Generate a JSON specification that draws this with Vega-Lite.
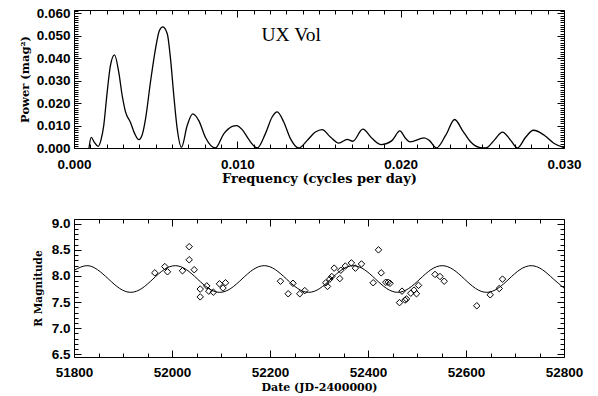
{
  "$schema": "https://vega.github.io/schema/vega-lite/v6.json",
  "background": "white",
  "padding": {"left": 19, "top": 4, "right": 5, "bottom": 2},
  "spacing": 30,
  "config": {
    "view": {"stroke": null},
    "axis": {
      "grid": false,
      "domainColor": "black",
      "domainWidth": 1,
      "tickColor": "black",
      "tickWidth": 1,
      "labelColor": "black",
      "titleColor": "black",
      "labelFont": "Liberation Sans",
      "labelFontWeight": "bold",
      "labelFontSize": 13.5,
      "titleFont": "DejaVu Serif",
      "titleFontWeight": "bold",
      "labelOverlap": false,
      "labelFlush": false,
      "labelBound": false
    }
  },
  "datasets": {
    "power": [
      {"f": 0.00092, "p": 0}, {"f": 0.00105, "p": 0.0047}, {"f": 0.00125, "p": 0.0025}, {"f": 0.00148, "p": 0.0007},
      {"f": 0.00165, "p": 0.0035}, {"f": 0.00182, "p": 0.0100}, {"f": 0.00203, "p": 0.0248}, {"f": 0.00223, "p": 0.0367},
      {"f": 0.00248, "p": 0.0415}, {"f": 0.00274, "p": 0.0338}, {"f": 0.00295, "p": 0.0234}, {"f": 0.00315, "p": 0.0162},
      {"f": 0.00346, "p": 0.0114}, {"f": 0.00372, "p": 0.0063}, {"f": 0.00397, "p": 0.0037}, {"f": 0.00418, "p": 0.0060},
      {"f": 0.00438, "p": 0.0130}, {"f": 0.00468, "p": 0.0293}, {"f": 0.00499, "p": 0.0442}, {"f": 0.00523, "p": 0.0524},
      {"f": 0.00544, "p": 0.0540}, {"f": 0.00571, "p": 0.0509}, {"f": 0.00591, "p": 0.0397}, {"f": 0.00611, "p": 0.0234},
      {"f": 0.00632, "p": 0.0085}, {"f": 0.00658, "p": 0.0003}, {"f": 0.00693, "p": 0.0100}, {"f": 0.00727, "p": 0.0152},
      {"f": 0.00764, "p": 0.0122}, {"f": 0.00805, "p": 0.0047}, {"f": 0.00866, "p": 0}, {"f": 0.00917, "p": 0.0063},
      {"f": 0.00969, "p": 0.0096}, {"f": 0.00995, "p": 0.0100}, {"f": 0.0103, "p": 0.0082}, {"f": 0.0107, "p": 0.0038},
      {"f": 0.01122, "p": 0}, {"f": 0.01172, "p": 0.0064}, {"f": 0.01213, "p": 0.0138}, {"f": 0.01244, "p": 0.0161},
      {"f": 0.01284, "p": 0.0116}, {"f": 0.01325, "p": 0.0042}, {"f": 0.01376, "p": 0}, {"f": 0.01428, "p": 0.0034},
      {"f": 0.01478, "p": 0.0071}, {"f": 0.01519, "p": 0.0082}, {"f": 0.0157, "p": 0.0049}, {"f": 0.01621, "p": 0.0022},
      {"f": 0.01673, "p": 0.0038}, {"f": 0.01707, "p": 0.0030}, {"f": 0.01768, "p": 0.0084}, {"f": 0.01826, "p": 0.0042},
      {"f": 0.01881, "p": 0.0015}, {"f": 0.01948, "p": 0.0034}, {"f": 0.01995, "p": 0.0076}, {"f": 0.02031, "p": 0.0042},
      {"f": 0.02058, "p": 0.0027}, {"f": 0.02144, "p": 0.0045}, {"f": 0.02175, "p": 0.0034}, {"f": 0.02219, "p": 0},
      {"f": 0.02276, "p": 0.0057}, {"f": 0.02331, "p": 0.0127}, {"f": 0.02378, "p": 0.0079}, {"f": 0.02429, "p": 0.0027},
      {"f": 0.02481, "p": 0.0003}, {"f": 0.02521, "p": 0}, {"f": 0.02572, "p": 0.0034}, {"f": 0.02623, "p": 0.0071},
      {"f": 0.02674, "p": 0.0034}, {"f": 0.02715, "p": 0}, {"f": 0.02766, "p": 0.0049}, {"f": 0.02813, "p": 0.0079},
      {"f": 0.02879, "p": 0.0057}, {"f": 0.0294, "p": 0.0020}, {"f": 0.03, "p": 0.0002}
    ],
    "model": [
      {"d": 51800, "m": 8.107}, {"d": 51825.0, "m": 8.197}, {"d": 51847.7, "m": 8.122}, {"d": 51870.4, "m": 7.942},
      {"d": 51893.1, "m": 7.762}, {"d": 51915.8, "m": 7.687}, {"d": 51938.5, "m": 7.762}, {"d": 51961.2, "m": 7.942},
      {"d": 51983.9, "m": 8.122}, {"d": 52006.6, "m": 8.197}, {"d": 52029.3, "m": 8.122}, {"d": 52052.0, "m": 7.942},
      {"d": 52074.7, "m": 7.762}, {"d": 52097.4, "m": 7.687}, {"d": 52120.1, "m": 7.762}, {"d": 52142.8, "m": 7.942},
      {"d": 52165.5, "m": 8.122}, {"d": 52188.2, "m": 8.197}, {"d": 52210.9, "m": 8.122}, {"d": 52233.6, "m": 7.942},
      {"d": 52256.3, "m": 7.762}, {"d": 52279.0, "m": 7.687}, {"d": 52301.7, "m": 7.762}, {"d": 52324.4, "m": 7.942},
      {"d": 52347.1, "m": 8.122}, {"d": 52369.8, "m": 8.197}, {"d": 52392.5, "m": 8.122}, {"d": 52415.2, "m": 7.942},
      {"d": 52437.9, "m": 7.762}, {"d": 52460.6, "m": 7.687}, {"d": 52483.3, "m": 7.762}, {"d": 52506.0, "m": 7.942},
      {"d": 52528.7, "m": 8.122}, {"d": 52551.4, "m": 8.197}, {"d": 52574.1, "m": 8.122}, {"d": 52596.8, "m": 7.942},
      {"d": 52619.5, "m": 7.762}, {"d": 52642.2, "m": 7.687}, {"d": 52664.9, "m": 7.762}, {"d": 52687.6, "m": 7.942},
      {"d": 52710.3, "m": 8.122}, {"d": 52733.0, "m": 8.197}, {"d": 52755.7, "m": 8.122}, {"d": 52778.4, "m": 7.942},
      {"d": 52800, "m": 7.769}
    ],
    "obs": [
      {"jd": 51964.9, "r": 8.06}, {"jd": 51985.3, "r": 8.18}, {"jd": 51990.8, "r": 8.08}, {"jd": 52021.4, "r": 8.10},
      {"jd": 52035.1, "r": 8.56}, {"jd": 52035.1, "r": 8.31}, {"jd": 52045.3, "r": 8.12}, {"jd": 52057.6, "r": 7.75},
      {"jd": 52057.6, "r": 7.60}, {"jd": 52071.0, "r": 7.81}, {"jd": 52075.1, "r": 7.71}, {"jd": 52084.3, "r": 7.69},
      {"jd": 52096.9, "r": 7.85}, {"jd": 52104.1, "r": 7.77}, {"jd": 52109.2, "r": 7.87}, {"jd": 52221.4, "r": 7.90},
      {"jd": 52237.1, "r": 7.66}, {"jd": 52246.9, "r": 7.86}, {"jd": 52260.8, "r": 7.66}, {"jd": 52271.0, "r": 7.72},
      {"jd": 52313.9, "r": 7.87}, {"jd": 52317.3, "r": 7.80}, {"jd": 52322.0, "r": 7.94}, {"jd": 52326.1, "r": 7.99},
      {"jd": 52331.0, "r": 8.15}, {"jd": 52344.5, "r": 8.11}, {"jd": 52342.4, "r": 7.95}, {"jd": 52353.7, "r": 8.19},
      {"jd": 52366.1, "r": 8.25}, {"jd": 52374.3, "r": 8.15}, {"jd": 52386.7, "r": 8.23}, {"jd": 52410.6, "r": 7.87},
      {"jd": 52421.4, "r": 8.50}, {"jd": 52427.0, "r": 8.06}, {"jd": 52436.3, "r": 7.88}, {"jd": 52441.2, "r": 7.88},
      {"jd": 52444.9, "r": 7.86}, {"jd": 52464.3, "r": 7.49}, {"jd": 52469.4, "r": 7.71}, {"jd": 52475.5, "r": 7.54},
      {"jd": 52478.6, "r": 7.56}, {"jd": 52487.3, "r": 7.67}, {"jd": 52493.9, "r": 7.73}, {"jd": 52499.0, "r": 7.66},
      {"jd": 52503.1, "r": 7.82}, {"jd": 52536.7, "r": 8.03}, {"jd": 52546.9, "r": 7.99}, {"jd": 52555.5, "r": 7.90},
      {"jd": 52622.0, "r": 7.43}, {"jd": 52649.4, "r": 7.64}, {"jd": 52667.8, "r": 7.76}, {"jd": 52674.5, "r": 7.94}
    ],
    "label": [{"name": "UX Vol", "f": 0.0133, "p": 0.0478}]
  },
  "vconcat": [
    {
      "width": 490,
      "height": 138,
      "layer": [
        {
          "data": {"name": "power"},
          "mark": {"type": "line", "color": "black", "strokeWidth": 1.3, "interpolate": "monotone"},
          "encoding": {
            "x": {
              "field": "f", "type": "quantitative",
              "scale": {"domain": [0, 0.03], "nice": false, "zero": false},
              "axis": {
                "orient": "bottom",
                "title": "Frequency (cycles per day)",
                "titleFontSize": 13,
                "titlePadding": -1,
                "format": ".3f",
                "values": [0, 0.001, 0.002, 0.003, 0.004, 0.005, 0.006, 0.007, 0.008, 0.009, 0.01, 0.011, 0.012, 0.013, 0.014, 0.015, 0.016, 0.017, 0.018, 0.019, 0.02, 0.021, 0.022, 0.023, 0.024, 0.025, 0.026, 0.027, 0.028, 0.029, 0.03],
                "labelExpr": "abs(datum.value*100 - round(datum.value*100)) < 0.001 ? datum.label : ''",
                "tickSize": {"condition": {"test": "abs(datum.value*100 - round(datum.value*100)) < 0.001", "value": -7}, "value": -4},
                "labelPadding": 16
              }
            },
            "y": {
              "field": "p", "type": "quantitative",
              "scale": {"domain": [0, 0.0615], "nice": false, "zero": false},
              "axis": {
                "orient": "left",
                "title": "Power (mag²)",
                "titleFontSize": 11.5,
                "titlePadding": 6,
                "format": ".3f",
                "values": [0, 0.001, 0.002, 0.003, 0.004, 0.005, 0.006, 0.007, 0.008, 0.009, 0.01, 0.011, 0.012, 0.013, 0.014, 0.015, 0.016, 0.017, 0.018, 0.019, 0.02, 0.021, 0.022, 0.023, 0.024, 0.025, 0.026, 0.027, 0.028, 0.029, 0.03, 0.031, 0.032, 0.033, 0.034, 0.035, 0.036, 0.037, 0.038, 0.039, 0.04, 0.041, 0.042, 0.043, 0.044, 0.045, 0.046, 0.047, 0.048, 0.049, 0.05, 0.051, 0.052, 0.053, 0.054, 0.055, 0.056, 0.057, 0.058, 0.059, 0.06, 0.061],
                "labelExpr": "abs(datum.value*100 - round(datum.value*100)) < 0.001 ? datum.label : ''",
                "tickSize": {"condition": {"test": "abs(datum.value*100 - round(datum.value*100)) < 0.001", "value": -7}, "value": -4},
                "labelPadding": 11
              }
            }
          }
        },
        {
          "data": {"name": "label"},
          "mark": {"type": "text", "font": "Liberation Serif", "fontSize": 19.5, "align": "center", "baseline": "alphabetic", "color": "black"},
          "encoding": {
            "x": {
              "field": "f", "type": "quantitative",
              "axis": {
                "orient": "top", "title": null, "labels": false,
                "values": [0, 0.001, 0.002, 0.003, 0.004, 0.005, 0.006, 0.007, 0.008, 0.009, 0.01, 0.011, 0.012, 0.013, 0.014, 0.015, 0.016, 0.017, 0.018, 0.019, 0.02, 0.021, 0.022, 0.023, 0.024, 0.025, 0.026, 0.027, 0.028, 0.029, 0.03],
                "tickSize": {"condition": {"test": "abs(datum.value*100 - round(datum.value*100)) < 0.001", "value": -7}, "value": -4}
              }
            },
            "y": {
              "field": "p", "type": "quantitative",
              "axis": {
                "orient": "right", "title": null, "labels": false,
                "values": [0, 0.001, 0.002, 0.003, 0.004, 0.005, 0.006, 0.007, 0.008, 0.009, 0.01, 0.011, 0.012, 0.013, 0.014, 0.015, 0.016, 0.017, 0.018, 0.019, 0.02, 0.021, 0.022, 0.023, 0.024, 0.025, 0.026, 0.027, 0.028, 0.029, 0.03, 0.031, 0.032, 0.033, 0.034, 0.035, 0.036, 0.037, 0.038, 0.039, 0.04, 0.041, 0.042, 0.043, 0.044, 0.045, 0.046, 0.047, 0.048, 0.049, 0.05, 0.051, 0.052, 0.053, 0.054, 0.055, 0.056, 0.057, 0.058, 0.059, 0.06, 0.061],
                "tickSize": {"condition": {"test": "abs(datum.value*100 - round(datum.value*100)) < 0.001", "value": -7}, "value": -4}
              }
            },
            "text": {"field": "name"}
          }
        }
      ],
      "resolve": {"axis": {"x": "independent", "y": "independent"}}
    },
    {
      "width": 490,
      "height": 138,
      "layer": [
        {
          "data": {"name": "model"},
          "mark": {"type": "line", "color": "black", "strokeWidth": 1, "interpolate": "natural"},
          "encoding": {
            "x": {
              "field": "d", "type": "quantitative",
              "scale": {"domain": [51800, 52800], "nice": false, "zero": false},
              "axis": {
                "orient": "bottom",
                "title": "Date (JD-2400000)",
                "titleFontSize": 11,
                "titlePadding": 0,
                "format": "d",
                "values": [51800, 51850, 51900, 51950, 52000, 52050, 52100, 52150, 52200, 52250, 52300, 52350, 52400, 52450, 52500, 52550, 52600, 52650, 52700, 52750, 52800],
                "labelExpr": "datum.value % 200 === 0 ? datum.label : ''",
                "tickSize": {"condition": {"test": "datum.value % 200 === 0", "value": -7}, "value": -4},
                "labelPadding": 15
              }
            },
            "y": {
              "field": "m", "type": "quantitative",
              "scale": {"domain": [6.45, 9.09], "nice": false, "zero": false},
              "axis": {
                "orient": "left",
                "title": "R Magnitude",
                "titleFontSize": 10.5,
                "titlePadding": 8,
                "format": ".1f",
                "values": [6.5, 6.6, 6.7, 6.8, 6.9, 7.0, 7.1, 7.2, 7.3, 7.4, 7.5, 7.6, 7.7, 7.8, 7.9, 8.0, 8.1, 8.2, 8.3, 8.4, 8.5, 8.6, 8.7, 8.8, 8.9, 9.0],
                "labelExpr": "abs(datum.value*2 - round(datum.value*2)) < 0.001 ? datum.label : ''",
                "tickSize": {"condition": {"test": "abs(datum.value*2 - round(datum.value*2)) < 0.001", "value": -7}, "value": -4},
                "labelPadding": 11
              }
            }
          }
        },
        {
          "data": {"name": "obs"},
          "mark": {"type": "point", "shape": "diamond", "filled": false, "stroke": "black", "strokeWidth": 1, "size": 42, "opacity": 1},
          "encoding": {
            "x": {
              "field": "jd", "type": "quantitative",
              "axis": {
                "orient": "top", "title": null, "labels": false,
                "values": [51800, 51850, 51900, 51950, 52000, 52050, 52100, 52150, 52200, 52250, 52300, 52350, 52400, 52450, 52500, 52550, 52600, 52650, 52700, 52750, 52800],
                "tickSize": {"condition": {"test": "datum.value % 200 === 0", "value": -7}, "value": -4}
              }
            },
            "y": {
              "field": "r", "type": "quantitative",
              "axis": {
                "orient": "right", "title": null, "labels": false,
                "values": [6.5, 6.6, 6.7, 6.8, 6.9, 7.0, 7.1, 7.2, 7.3, 7.4, 7.5, 7.6, 7.7, 7.8, 7.9, 8.0, 8.1, 8.2, 8.3, 8.4, 8.5, 8.6, 8.7, 8.8, 8.9, 9.0],
                "tickSize": {"condition": {"test": "abs(datum.value*2 - round(datum.value*2)) < 0.001", "value": -7}, "value": -4}
              }
            }
          }
        }
      ],
      "resolve": {"axis": {"x": "independent", "y": "independent"}}
    }
  ]
}
